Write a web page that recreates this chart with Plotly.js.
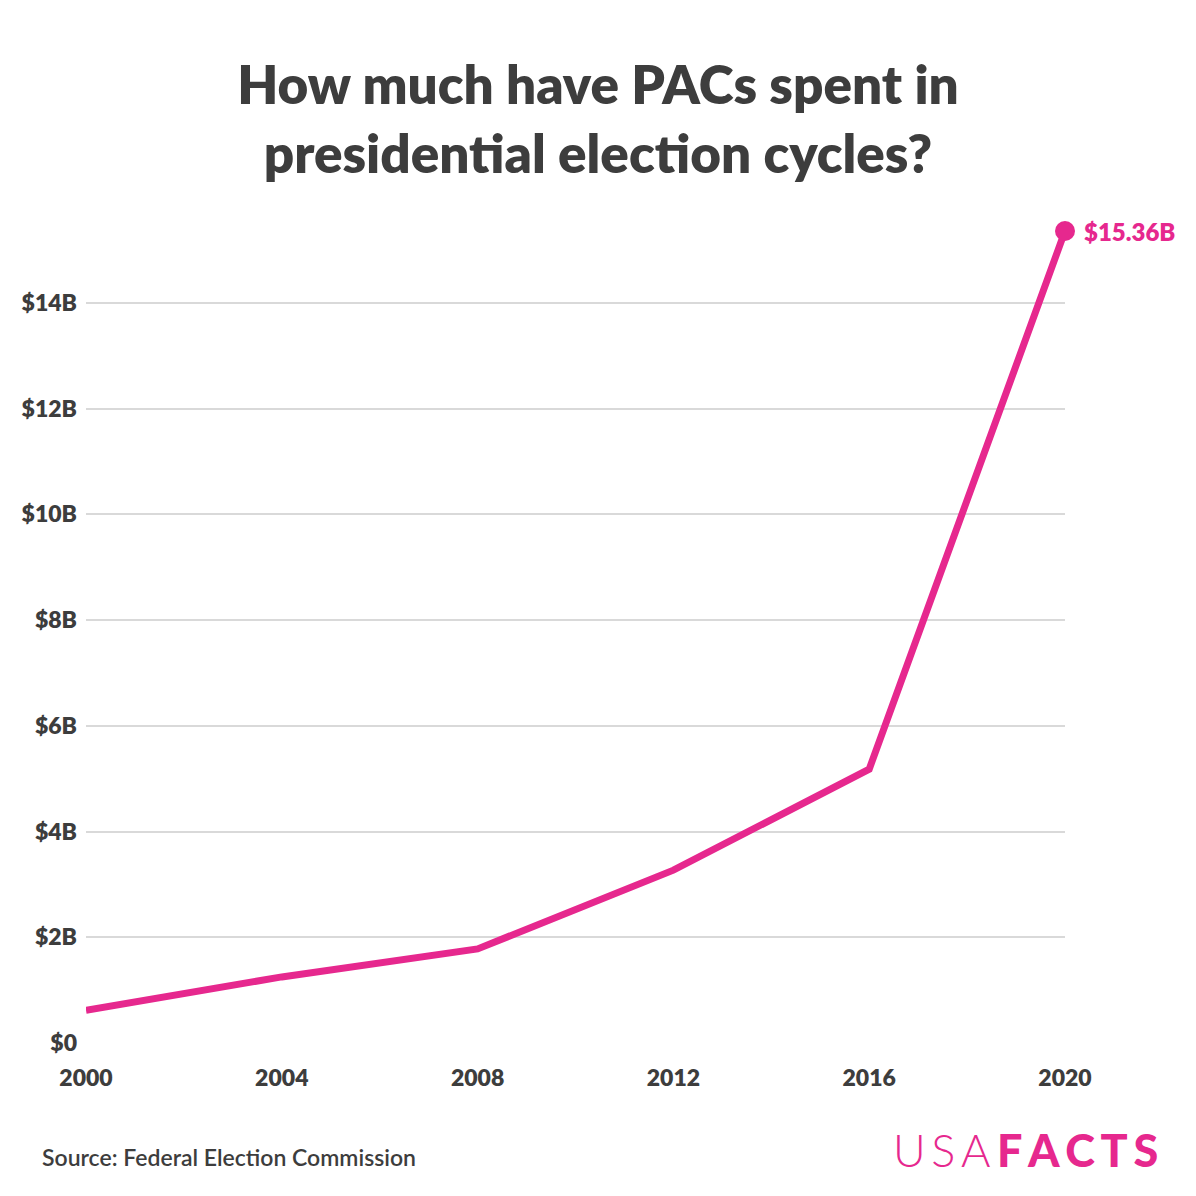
<!DOCTYPE html>
<html>
<head>
<meta charset="utf-8">
<script src="https://cdn.plot.ly/plotly-3.0.1.min.js"></script>
<style>html,body{margin:0;padding:0;background:#fff;}#chart{width:1196px;height:1196px;}</style>
</head>
<body>
<div id="chart"></div>
<script>
const years = [2000, 2004, 2008, 2012, 2016, 2020];
const spendingBillions = [0.62, 1.25, 1.78, 3.27, 5.18, 15.36];
const yTickVals = [0, 2, 4, 6, 8, 10, 12, 14];
const yTickText = ['$0', '$2B', '$4B', '$6B', '$8B', '$10B', '$12B', '$14B'];
const xTickVals = [2000, 2004, 2008, 2012, 2016, 2020];
const lastLabel = '$15.36B';

const PINK = '#E6288E';
const DARK = '#3d3d3d';
const FONT = 'Lato, "Open Sans", sans-serif';

const traces = [
  {
    x: years, y: spendingBillions, type: 'scatter', mode: 'lines',
    line: {color: PINK, width: 7}, hoverinfo: 'skip', cliponaxis: false
  },
  {
    x: [years[years.length - 1]], y: [spendingBillions[spendingBillions.length - 1]],
    type: 'scatter', mode: 'markers', marker: {color: PINK, size: 20},
    hoverinfo: 'skip', cliponaxis: false
  }
];

const ML = 86, MR = 131, MT = 231, MB = 153, W = 1196, H = 1196;
const plotW = W - ML - MR, plotH = H - MT - MB;
function px2paperX(px){ return (px - ML) / plotW; }
function px2paperY(py){ return (H - MB - py) / plotH; }

const layout = {
  width: W, height: H,
  paper_bgcolor: '#fff', plot_bgcolor: '#fff',
  showlegend: false,
  margin: {l: ML, r: MR, t: MT, b: MB},
  title: {
    text: 'How much have PACs spent in<br>presidential election cycles?',
    font: {family: FONT, size: 53, color: DARK, weight: 800},
    x: 0.5, xref: 'container', xanchor: 'center',
    y: 1 - 104 / H, yref: 'container', yanchor: 'middle'
  },
  xaxis: {
    range: [2000, 2020], tickvals: xTickVals, ticktext: xTickVals.map(String),
    showgrid: false, zeroline: false, showline: false, ticks: '',
    ticklabelstandoff: 19,
    tickfont: {family: FONT, size: 23, color: DARK, weight: 800}
  },
  yaxis: {
    range: [0, 15.36], tickvals: yTickVals, ticktext: yTickText,
    showgrid: true, gridcolor: '#d9d9d9', gridwidth: 2,
    zeroline: false, showline: false, ticks: '',
    ticklabelstandoff: 8,
    tickfont: {family: FONT, size: 23, color: DARK, weight: 800}
  },
  annotations: [
    {
      x: years[years.length - 1], y: spendingBillions[spendingBillions.length - 1],
      xref: 'x', yref: 'y', text: lastLabel, showarrow: false,
      xanchor: 'left', yanchor: 'middle', xshift: 17,
      font: {family: FONT, size: 24, color: PINK, weight: 800}
    },
    {
      x: px2paperX(40), y: px2paperY(1157), xref: 'paper', yref: 'paper',
      text: 'Source: Federal Election Commission', showarrow: false,
      xanchor: 'left', yanchor: 'middle',
      font: {family: FONT, size: 23, color: DARK, weight: 600}
    },
    {
      x: px2paperX(891), y: px2paperY(1150), xref: 'paper', yref: 'paper',
      text: 'U\u2009S\u2009A', showarrow: false, xanchor: 'left', yanchor: 'middle',
      font: {family: FONT, size: 45, color: PINK, weight: 300}
    },
    {
      x: px2paperX(1160), y: px2paperY(1150), xref: 'paper', yref: 'paper',
      text: 'F\u2009A\u2009C\u2009T\u2009S', showarrow: false, xanchor: 'right', yanchor: 'middle',
      font: {family: FONT, size: 45, color: PINK, weight: 900}
    }
  ]
};

Plotly.newPlot('chart', traces, layout, {displayModeBar: false, staticPlot: true});
</script>
</body>
</html>
